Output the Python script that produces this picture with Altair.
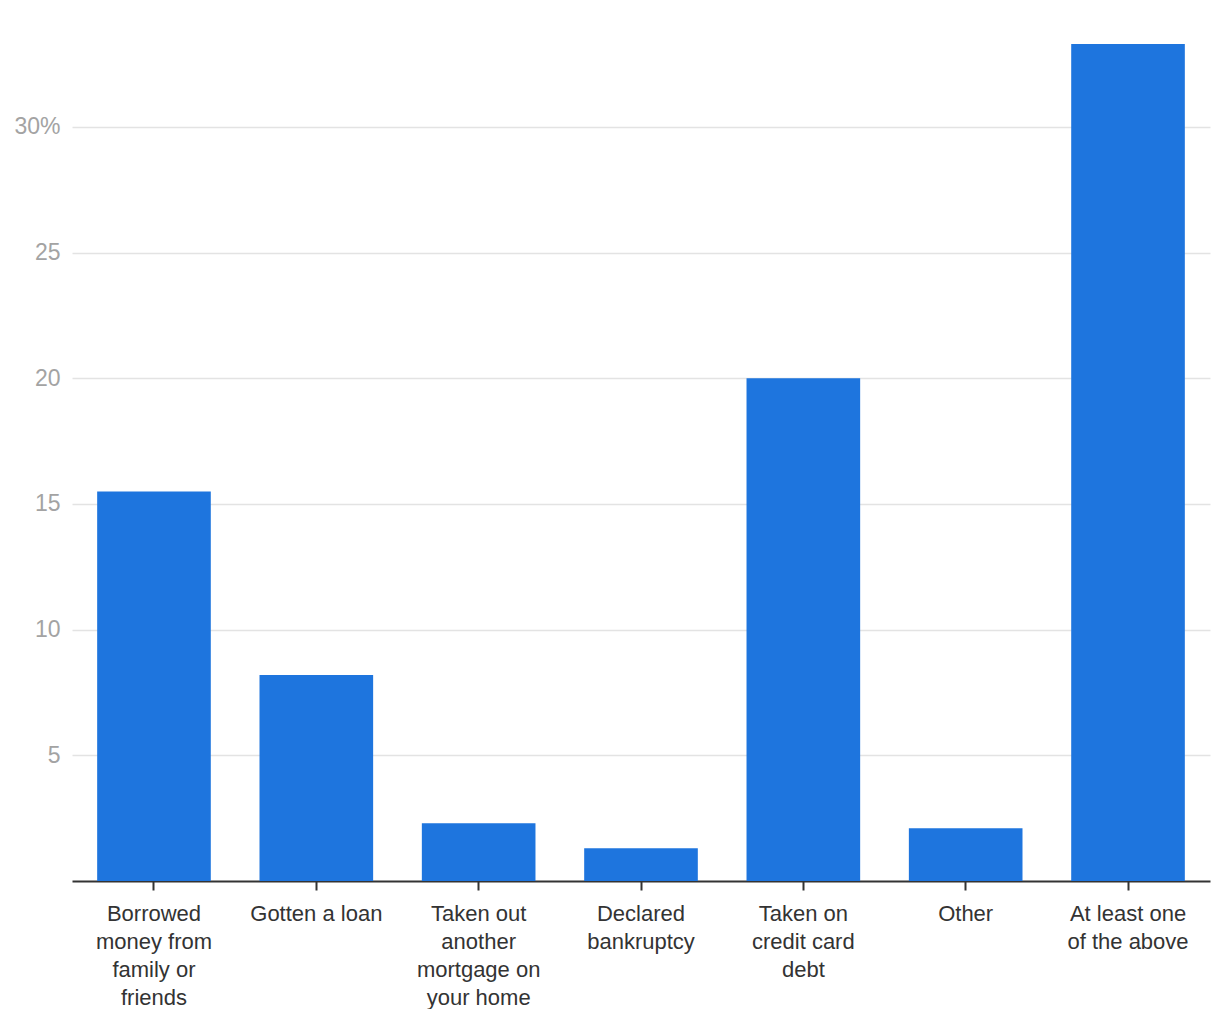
import altair as alt
import pandas as pd

categories = [
    "Borrowed|money from|family or|friends",
    "Gotten a loan",
    "Taken out|another|mortgage on|your home",
    "Declared|bankruptcy",
    "Taken on|credit card|debt",
    "Other",
    "At least one|of the above",
]
values = [15.5, 8.2, 2.3, 1.3, 20.0, 2.1, 33.3]
y_ticks = [5, 10, 15, 20, 25, 30]

df = pd.DataFrame({"cat": categories, "val": values})
FONT = "Helvetica Neue, Helvetica, Liberation Sans, Arial, sans-serif"

chart = alt.Chart(df).mark_bar(color="#1e75de").encode(
    x=alt.X(
        "cat:N",
        sort=categories,
        title=None,
        scale=alt.Scale(paddingInner=0.3, paddingOuter=0.155),
        axis=alt.Axis(
            labelAngle=0,
            labelExpr="split(datum.label, '|')",
            labelFont=FONT,
            labelFontSize=22,
            labelColor="#333333",
            labelLineHeight=28,
            labelPadding=13,
            labelBaseline="top",
            domainColor="#333333",
            domainWidth=2,
            tickColor="#333333",
            tickWidth=2,
            tickSize=9,
            grid=False,
        ),
    ),
    y=alt.Y(
        "val:Q",
        title=None,
        scale=alt.Scale(domain=[0, 33.3], nice=False, zero=True),
        axis=alt.Axis(
            values=y_ticks,
            labelExpr="datum.value == 30 ? '30%' : datum.label",
            labelFont=FONT,
            labelFontSize=23,
            labelColor="#a3a3a3",
            labelPadding=12,
            domain=False,
            ticks=False,
            grid=True,
            gridColor="#e3e3e3",
            gridWidth=1.5,
        ),
    ),
).properties(
    width=1138,
    height=837,
    autosize="none",
    padding={"left": 64, "top": 36, "right": 2, "bottom": 128},
).configure_view(stroke=None)

chart.save("out.html", embed_options={"renderer": "svg", "actions": False})
